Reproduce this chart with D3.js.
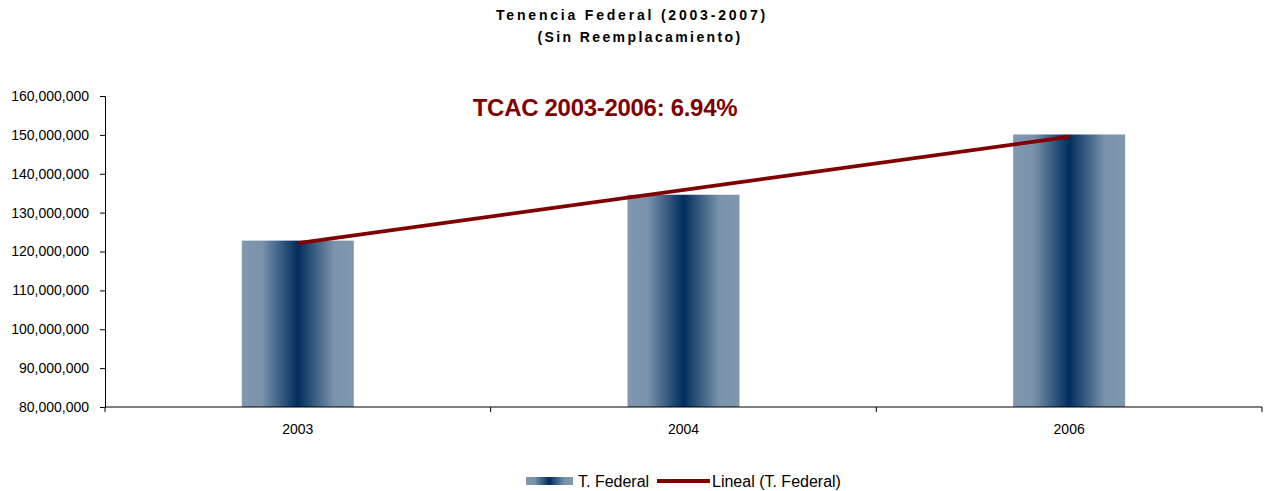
<!DOCTYPE html>
<html>
<head>
<meta charset="utf-8">
<script src="https://cdn.jsdelivr.net/npm/d3@7"></script>
<style>
  html, body { margin: 0; padding: 0; background: #fff; }
  svg { display: block; font-family: "Liberation Sans", Arial, sans-serif; }
</style>
</head>
<body>
<svg id="chart" width="1269" height="491"></svg>
<script>
// Tenencia Federal, sin reemplacamiento
const categories = ["2003", "2004", "2006"];
const values = [122800000, 134600000, 150100000];
const yTicks = [80000000, 90000000, 100000000, 110000000, 120000000, 130000000, 140000000, 150000000, 160000000];
const titleLines = ["Tenencia Federal (2003-2007)", "(Sin Reemplacamiento)"];
const annotation = "TCAC 2003-2006: 6.94%";
const legendLabels = ["T. Federal", "Lineal (T. Federal)"];

const svg = d3.select("#chart");
const margin = { left: 105, right: 1262, top: 96, bottom: 407 };

const x = d3.scaleBand().domain(categories).range([margin.left, margin.right]).paddingInner(0).paddingOuter(0);
const y = d3.scaleLinear().domain([80000000, 160000000]).range([margin.bottom, margin.top]);

// horizontal gradient for bars
const defs = svg.append("defs");
const grad = defs.append("linearGradient").attr("id", "barGrad").attr("x1", "0%").attr("x2", "100%").attr("y1", "0%").attr("y2", "0%");
[[0, "#7f98af"], [0.18, "#7a93aa"], [0.5, "#002d5f"], [0.82, "#7a93aa"], [1, "#7f98af"]].forEach(([o, c]) => {
  grad.append("stop").attr("offset", o).attr("stop-color", c);
});

// title
svg.append("text").attr("x", 632).attr("y", 20).attr("text-anchor", "middle")
  .attr("font-size", 14).attr("font-weight", "bold").attr("letter-spacing", 2.8).text(titleLines[0]);
svg.append("text").attr("x", 640).attr("y", 42).attr("text-anchor", "middle")
  .attr("font-size", 14).attr("font-weight", "bold").attr("letter-spacing", 2.4).text(titleLines[1]);

// bars
const barW = 112;
svg.append("g").selectAll("rect").data(categories).join("rect")
  .attr("x", d => x(d) + x.bandwidth() / 2 - barW / 2)
  .attr("width", barW)
  .attr("y", (d, i) => y(values[i]))
  .attr("height", (d, i) => y(80000000) - y(values[i]))
  .attr("fill", "url(#barGrad)");

// y axis
const yAxis = d3.axisLeft(y).tickValues(yTicks).tickSize(5).tickPadding(11).tickFormat(d3.format(","));
const gy = svg.append("g").attr("transform", `translate(${margin.left},0)`).call(yAxis);
gy.select(".domain").attr("stroke", "#000");
gy.selectAll(".tick line").attr("stroke", "#000");
gy.selectAll(".tick text").attr("font-size", 14).attr("fill", "#000").attr("font-family", "Liberation Sans, Arial, sans-serif");

// x axis with boundary ticks
const gx = svg.append("g").attr("transform", `translate(0,${margin.bottom})`);
gx.append("line").attr("x1", margin.left).attr("x2", margin.right).attr("stroke", "#000");
const bounds = categories.map(c => x(c)).concat([margin.right]);
gx.selectAll("line.b").data(bounds).join("line").attr("class", "b")
  .attr("x1", d => d).attr("x2", d => d).attr("y1", 0).attr("y2", 5).attr("stroke", "#000");
gx.selectAll("text").data(categories).join("text")
  .attr("x", d => x(d) + x.bandwidth() / 2).attr("y", 27).attr("text-anchor", "middle")
  .attr("font-size", 14).text(d => d);

// linear trend line (least squares over category index)
const n = values.length;
const xs = d3.range(1, n + 1);
const mx = d3.mean(xs), my = d3.mean(values);
const slope = d3.sum(xs.map((xi, i) => (xi - mx) * (values[i] - my))) / d3.sum(xs.map(xi => (xi - mx) ** 2));
const icpt = my - slope * mx;
const trend = [
  { c: categories[0], v: icpt + slope * 1 },
  { c: categories[n - 1], v: icpt + slope * n }
];
svg.append("path")
  .attr("d", d3.line().x(d => x(d.c) + x.bandwidth() / 2).y(d => y(d.v))(trend))
  .attr("stroke", "#800000").attr("stroke-width", 3.8).attr("fill", "none");

// growth annotation
svg.append("text").attr("x", 605).attr("y", 116).attr("text-anchor", "middle")
  .attr("font-size", 24).attr("font-weight", "bold").attr("fill", "#800000").attr("letter-spacing", -0.3).text(annotation);

// legend
const lg = svg.append("g");
lg.append("rect").attr("x", 526).attr("y", 477).attr("width", 47).attr("height", 8).attr("fill", "url(#barGrad)");
lg.append("text").attr("x", 578).attr("y", 487).attr("font-size", 16).text(legendLabels[0]);
lg.append("line").attr("x1", 657).attr("x2", 710).attr("y1", 481).attr("y2", 481).attr("stroke", "#800000").attr("stroke-width", 3.8);
lg.append("text").attr("x", 712).attr("y", 487).attr("font-size", 16).text(legendLabels[1]);
</script>
</body>
</html>
